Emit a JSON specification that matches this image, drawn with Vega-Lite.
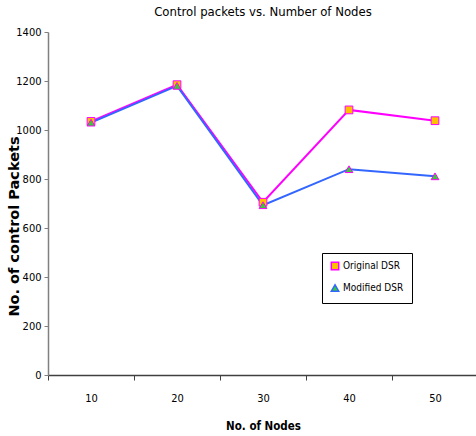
{
  "$schema": "https://vega.github.io/schema/vega-lite/v6.json",
  "autosize": {"type": "none"},
  "width": 430,
  "height": 343,
  "padding": {"left": 48, "top": 32, "right": 0, "bottom": 61},
  "background": "white",
  "title": {
    "text": "Control packets vs. Number of Nodes",
    "font": "DejaVu Sans Condensed, Liberation Sans",
    "fontSize": 13,
    "fontWeight": "normal",
    "color": "#000000",
    "offset": 7,
    "anchor": "middle"
  },
  "config": {
    "view": {"stroke": null},
    "font": "DejaVu Sans Condensed, Liberation Sans"
  },
  "data": {
    "values": [
      {"nodes": "10", "series": "Original DSR", "packets": 1035},
      {"nodes": "20", "series": "Original DSR", "packets": 1185},
      {"nodes": "30", "series": "Original DSR", "packets": 705},
      {"nodes": "40", "series": "Original DSR", "packets": 1082},
      {"nodes": "50", "series": "Original DSR", "packets": 1038},
      {"nodes": "10", "series": "Modified DSR", "packets": 1030},
      {"nodes": "20", "series": "Modified DSR", "packets": 1180},
      {"nodes": "30", "series": "Modified DSR", "packets": 693},
      {"nodes": "40", "series": "Modified DSR", "packets": 840},
      {"nodes": "50", "series": "Modified DSR", "packets": 811}
    ]
  },
  "encoding": {
    "x": {
      "field": "nodes",
      "type": "ordinal",
      "scale": {"type": "band", "paddingInner": 0, "paddingOuter": 0},
      "axis": {
        "title": "No. of Nodes",
        "labelAngle": 0,
        "tickBand": "extent",
        "labelFont": "DejaVu Sans Condensed, Liberation Sans",
        "labelFontSize": 11,
        "labelColor": "#000000",
        "labelPadding": 12,
        "tickSize": 5,
        "tickColor": "#404040",
        "domainColor": "#404040",
        "domainWidth": 1.5,
        "titleFont": "DejaVu Sans Condensed, Liberation Sans",
        "titleFontSize": 11.5,
        "titleFontWeight": "bold",
        "titleColor": "#000000",
        "titlePadding": 17
      }
    },
    "y": {
      "field": "packets",
      "type": "quantitative",
      "scale": {"domain": [0, 1400], "nice": false},
      "axis": {
        "title": "No. of control Packets",
        "format": "d",
        "values": [0, 200, 400, 600, 800, 1000, 1200, 1400],
        "grid": false,
        "labelFont": "DejaVu Sans Condensed, Liberation Sans",
        "labelFontSize": 11,
        "labelColor": "#000000",
        "labelPadding": 3,
        "tickSize": 4,
        "tickColor": "#808080",
        "domainColor": "#808080",
        "domainWidth": 1.5,
        "titleFont": "DejaVu Sans",
        "titleFontSize": 14.5,
        "titleFontWeight": "bold",
        "titleColor": "#000000",
        "titleX": -27,
        "titleY": 194,
        "titleAngle": 270,
        "titleBaseline": "bottom",
        "titleAlign": "center"
      }
    }
  },
  "layer": [
    {
      "mark": {"type": "line", "strokeWidth": 2},
      "encoding": {
        "stroke": {
          "field": "series",
          "type": "nominal",
          "scale": {"domain": ["Original DSR", "Modified DSR"], "range": ["#FF00FF", "#3366FF"]},
          "legend": {
            "title": null,
            "orient": "none",
            "legendX": 274,
            "legendY": 221,
            "strokeColor": "#000000",
            "fillColor": "#ffffff",
            "padding": 8,
            "labelFont": "DejaVu Sans Condensed, Liberation Sans",
            "labelFontSize": 10,
            "labelColor": "#000000",
            "labelOffset": 3,
            "symbolSize": 55,
            "rowPadding": 8
          }
        }
      }
    },
    {
      "mark": {"type": "point", "filled": true, "size": 60, "stroke": "#FF00FF", "strokeWidth": 1, "opacity": 1},
      "encoding": {
        "fill": {
          "field": "series",
          "type": "nominal",
          "scale": {"domain": ["Original DSR", "Modified DSR"], "range": ["#FFC000", "#33CC33"]}
        },
        "shape": {
          "field": "series",
          "type": "nominal",
          "scale": {"domain": ["Original DSR", "Modified DSR"], "range": ["square", "triangle-up"]}
        }
      }
    }
  ]
}
